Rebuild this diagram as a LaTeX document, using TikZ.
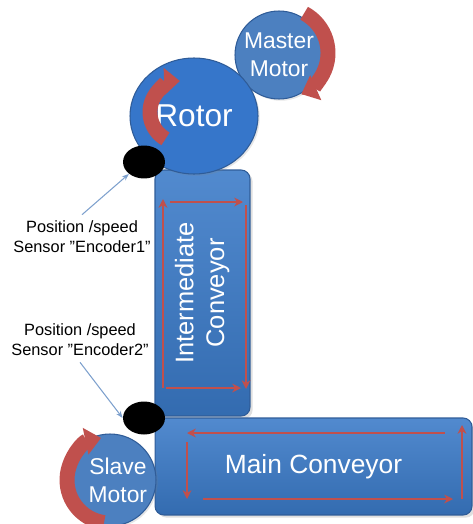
\documentclass[tikz,border=0pt]{standalone}
\usepackage{fontspec}
\setmainfont{Liberation Sans}
\usepackage{tikz}
\usetikzlibrary{shapes.geometric,arrows.meta,shadows}

\definecolor{beltblue}{RGB}{58,122,200}
\definecolor{rotorblue}{RGB}{54,118,202}
\definecolor{motorblue}{RGB}{76,128,192}
\definecolor{edgeblue}{RGB}{47,92,152}
\definecolor{turnred}{RGB}{192,80,77}
\definecolor{leadblue}{RGB}{125,160,205}

\begin{document}
\begin{tikzpicture}[x=0.02cm, y=-0.02cm,
wheel/.style={circle, draw=edgeblue, line width=0.6pt, fill=motorblue, text=white, align=center, inner sep=0pt,
  font=\fontsize{13}{16}\selectfont, drop shadow={opacity=0.2, shadow xshift=1pt, shadow yshift=-1pt}},
belt/.style={draw=edgeblue, line width=0.6pt, rounded corners=5pt, top color=beltblue!88!white, bottom color=beltblue!88!black,
  text=white, align=center, inner sep=0pt, drop shadow={opacity=0.25, shadow xshift=1.5pt, shadow yshift=-1.5pt}},
sensor/.style={ellipse, fill=black, minimum width=0.84cm, minimum height=0.66cm, inner sep=0pt},
turn/.style={turnred, line width=8.5pt, -{Triangle[length=9pt, width=15pt]}},
flow/.style={turnred, line width=1.1pt, -{Stealth[length=5pt, width=5pt]}},
lbl/.style={align=center, font=\fontsize{9.3}{11.5}\selectfont},
pointer/.style={leadblue, line width=0.6pt, -{Stealth[length=4pt, width=3pt]}}]
\useasboundingbox (0,0) rectangle (473,524);

\node[belt, minimum width=1.9cm, minimum height=4.92cm] (inter) at (202.5,293)
  {\rotatebox{90}{\fontsize{14.5}{17.5}\selectfont\begin{tabular}{@{}c@{}}Intermediate\\Conveyor\end{tabular}}};
\node[belt, minimum width=6.34cm, minimum height=1.94cm, font=\fontsize{15}{18}\selectfont] (main) at (313.5,466.5) {Main Conveyor};

\node[wheel, minimum size=1.76cm] (master) at (279,55) {Master\\Motor};
\node[wheel, ellipse, fill=rotorblue, minimum width=2.56cm, minimum height=2.32cm, font=\fontsize{18}{20}\selectfont] (rotor) at (194,116) {Rotor};
\node[wheel, minimum size=1.84cm] (slave) at (110,480) {\hspace{9pt}Slave\\\hspace{9pt}Motor};

\node[sensor] (enc1) at (144,162) {};
\node[sensor] (enc2) at (144,418) {};

\draw[turn] ([shift={(-62:45)}]283,53) arc[start angle=-62, end angle=66, radius=45];
\draw[turn] ([shift={(120:31)}]181,112) arc[start angle=120, end angle=268, radius=31];
\draw[turn] ([shift={(98:43)}]110,480) arc[start angle=98, end angle=258, radius=43];

\draw[flow] (163,388) -- (163,199);
\draw[flow] (170,202) -- (243,202);
\draw[flow] (246,205) -- (246,389);
\draw[flow] (166,388) -- (241,388);

\draw[flow] (445,433) -- (187,433);
\draw[flow] (187,442) -- (187,499);
\draw[flow] (203,499) -- (453,499);
\draw[flow] (462,499) -- (462,425);

\node[lbl] (lbl1) at (82,237) {Position /speed\\Sensor ”Encoder1”};
\node[lbl] (lbl2) at (80,340) {Position /speed\\Sensor ”Encoder2”};
\draw[pointer] (lbl1.north) -- (enc1.south west);
\draw[pointer] (lbl2.south) -- (enc2.west);
\end{tikzpicture}
\end{document}
